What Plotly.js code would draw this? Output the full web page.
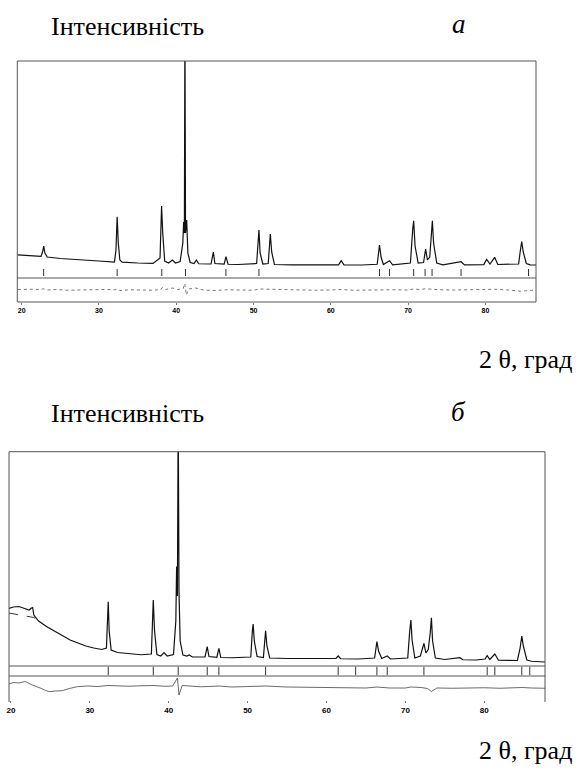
<!DOCTYPE html>
<html>
<head>
<meta charset="utf-8">
<script src="https://cdn.plot.ly/plotly-3.0.1.min.js"></script>
<style>html,body{margin:0;padding:0;background:#fff;}#chart{width:582px;height:774px;}</style>
</head>
<body>
<div id="chart"></div>
<script>
// ---------- Panel a (observed profile) ----------
var twoThetaA = [19.45,20.5,21.5,22.5,22.7,22.85,23.0,23.3,25.0,27.5,30.0,32.0,32.2,32.35,32.5,32.7,33.0,35.0,37.0,37.9,38.1,38.25,38.5,39.0,39.5,39.9,40.5,40.85,40.95,41.05,41.12,41.2,41.35,41.5,41.8,42.3,42.6,42.9,44.5,44.8,45.0,46.2,46.43,46.7,48.0,50.4,50.7,50.85,51.2,51.9,52.17,52.35,52.7,55.0,58.0,61.0,61.34,61.7,64.0,66.0,66.3,66.5,66.8,67.6,68.0,70.3,70.6,70.72,70.9,71.3,72.0,72.27,72.5,72.8,73.14,73.3,73.7,74.5,76.85,77.3,79.8,80.16,80.6,81.2,81.6,84.3,84.5,84.7,84.9,85.3,85.8,86.6];
var intensityA = [462,450,440,432,520,640,500,420,390,372,340,320,560,1226,700,360,318,300,292,400,1440,900,340,300,360,300,330,700,1120,900,5200,900,1160,500,310,290,360,285,280,520,290,276,426,275,270,290,960,500,280,290,880,520,270,264,262,262,346,262,260,275,660,420,270,346,262,300,980,1146,640,300,310,580,360,420,1146,700,300,262,326,262,268,374,280,414,270,280,520,726,520,290,262,260];
var braggA = [22.84,32.35,38.13,41.2,46.43,50.7,66.3,67.6,70.72,72.2,73.1,76.85,85.58];
var diffXA = [19.5,20.5,21.5,22.5,22.8,23.2,24.5,26,27.5,29,30.5,32,32.35,32.7,34,35.5,37,38.0,38.2,38.6,39.5,40.2,40.9,41.1,41.3,41.6,42.5,43.5,45,46.4,48,50,50.7,52.1,54,56,58,60,61.3,63,65,66.3,68,70,70.7,71.5,72.3,73.1,74,76,78,80.2,81.2,83,84.6,85.2,86.5];
var diffYA = [10,20,15,10,25,0,10,-5,5,0,10,5,20,-10,5,0,-5,10,50,10,40,10,30,130,-100,20,40,0,-10,5,0,-5,20,15,0,5,-5,0,10,-5,0,15,5,0,20,10,25,15,5,0,5,10,15,0,-25,-15,0];

// ---------- Panel б (observed profile) ----------
var twoThetaB = [19.75,20.3,21.0,21.7,22.3,22.6,22.75,22.9,23.5,24.5,25.5,26.5,27.5,28.5,29.5,30.5,31.5,32.1,32.25,32.33,32.45,32.7,33.5,35.0,36.5,37.8,37.95,38.04,38.2,38.5,39.0,39.4,39.8,40.6,40.9,41.0,41.1,41.2,41.3,41.45,41.8,42.3,42.6,43.0,44.6,44.88,45.1,46.1,46.36,46.6,48.0,50.4,50.6,50.7,50.85,51.2,52.0,52.28,52.45,52.8,55.0,58.0,61.2,61.48,61.8,64.0,66.1,66.39,66.6,67.0,67.7,68.1,70.3,70.55,70.7,70.85,71.2,71.9,72.35,72.6,72.9,73.15,73.3,73.45,73.8,75.0,76.9,77.3,79.0,80.1,80.37,80.7,81.34,81.8,84.2,84.55,84.76,84.95,85.4,86.0,87.7];
var intensityB = [1150,1180,1190,1160,1120,1160,1170,1020,900,790,700,600,520,460,400,360,330,360,900,1286,700,320,270,240,225,240,800,1320,700,230,200,266,200,230,900,1990,1400,5200,1500,500,220,200,220,180,180,386,190,175,354,170,165,180,700,840,500,190,170,706,400,160,150,148,150,200,145,140,160,486,300,150,200,140,160,700,920,520,160,200,454,260,330,660,966,500,160,130,166,125,120,140,206,130,240,115,110,360,600,400,120,95,80];
var calcLeftXB = [19.75,20.5,21.5,22.3,22.9,23.5];
var calcLeftYB = [1060,1040,1010,990,970,900];
var braggB = [32.33,38.04,41.2,44.88,46.36,52.28,61.48,63.7,66.39,67.7,72.35,80.37,81.34,84.76,85.77];
var diffXB = [19.75,20.3,21.0,21.8,22.7,23.3,23.8,24.4,24.9,25.6,26.5,27.4,28.4,29.7,31,32.3,33.5,35,36.5,38,39.5,40.5,41.1,41.3,41.7,42.5,44,45,46.4,48,50,52.3,55,58,60,63,65,66.4,68,70,70.7,72,72.8,73.3,74,76,78,80,82,84.8,86,87.7];
var diffYB = [40,70,60,90,20,-10,-46,-90,-114,-100,-94,-50,-14,0,-10,10,0,-5,5,10,-5,0,160,-180,10,0,-15,-10,0,-20,-15,0,-20,-25,-30,-35,-40,-20,-40,-40,-20,-30,-50,-110,-40,-45,-40,-35,-45,-30,-40,-45];

var tickVals = [20,30,40,50,60,70,80];
var tickText = ['20','30','40','50','60','70','80'];

// ---------- geometry (pixels of the 582x774 page) ----------
var W = 582, H = 774;
function px(x){return x/W;}
function py(y){return 1 - y/H;}

var A = {l:17.3, r:536, top:61, sep:278, bot:302, zero:290, xr:[19.43,86.55]};
var B = {l:9, r:545, top:451.7, sep1:666, sep2:676, bot:700, xr:[19.75,87.7]};
var K = 20; // intensity units per pixel

var lineCol = '#111';
var frameCol = '#555';
var serif = 'Liberation Serif';

var traces = [
  {x:twoThetaA, y:intensityA, xaxis:'x', yaxis:'y', type:'scatter', mode:'lines',
   line:{color:lineCol, width:1.2}, hoverinfo:'skip'},
  {x:braggA, y:braggA.map(function(){return (A.sep-272.5)*K;}), xaxis:'x', yaxis:'y', type:'scatter', mode:'markers',
   marker:{symbol:'line-ns', size:5, line:{width:1, color:'#333'}}, hoverinfo:'skip'},
  {x:diffXA, y:diffYA, xaxis:'x2', yaxis:'y2', type:'scatter', mode:'lines',
   line:{color:'#777', width:1, dash:'dot'}, hoverinfo:'skip'},
  {x:twoThetaB, y:intensityB, xaxis:'x3', yaxis:'y3', type:'scatter', mode:'lines',
   line:{color:lineCol, width:1.2}, hoverinfo:'skip'},
  {x:calcLeftXB, y:calcLeftYB, xaxis:'x3', yaxis:'y3', type:'scatter', mode:'lines',
   line:{color:'#333', width:1, dash:'dash'}, hoverinfo:'skip'},
  {x:braggB, y:braggB.map(function(){return 0.5;}), xaxis:'x3', yaxis:'y5', type:'scatter', mode:'markers',
   marker:{symbol:'line-ns', size:6, line:{width:1, color:'#333'}}, hoverinfo:'skip'},
  {x:diffXB, y:diffYB, xaxis:'x4', yaxis:'y4', type:'scatter', mode:'lines',
   line:{color:'#444', width:0.8}, hoverinfo:'skip'}
];

function hidden(extra){
  var o = {visible:false, showgrid:false, zeroline:false, fixedrange:true};
  for (var k in extra) o[k]=extra[k];
  return o;
}
function labelled(extra, fs){
  var o = {showgrid:false, zeroline:false, showline:false, ticks:'outside', ticklen:2, tickwidth:1,
           tickcolor:'#777', tickvals:tickVals, ticktext:tickText,
           tickfont:{family:'Liberation Sans', size:fs, color:'#000', weight:'bold'}};
  for (var k in extra) o[k]=extra[k];
  return o;
}
function txt(t, x, y, anchor, size){
  return {text:t, xref:'paper', yref:'paper', x:px(x), y:py(y), xanchor:anchor, yanchor:'middle', showarrow:false,
          font:{family:serif, size:size, color:'#000'}};
}

var layout = {
  width:W, height:H, margin:{l:0,r:0,t:0,b:0,pad:0},
  paper_bgcolor:'#fff', plot_bgcolor:'rgba(0,0,0,0)', showlegend:false,
  font:{family:serif},
  xaxis: hidden({domain:[px(A.l),px(A.r)], range:A.xr, anchor:'y'}),
  yaxis: hidden({domain:[py(A.sep),py(A.top)], range:[0,(A.sep-A.top)*K], anchor:'x'}),
  xaxis2: labelled({domain:[px(A.l),px(A.r)], range:A.xr, anchor:'y2'}, 7),
  yaxis2: hidden({domain:[py(A.bot),py(A.sep)], range:[-(A.bot-A.zero)*K,(A.zero-A.sep)*K], anchor:'x2'}),
  xaxis3: hidden({domain:[px(B.l),px(B.r)], range:B.xr, anchor:'y3'}),
  yaxis3: hidden({domain:[py(B.sep1),py(B.top)], range:[0,(B.sep1-B.top)*K], anchor:'x3'}),
  xaxis4: labelled({domain:[px(B.l),px(B.r)], range:B.xr, anchor:'y4'}, 8),
  yaxis4: hidden({domain:[py(B.bot),py(B.sep2)], range:[-(B.bot-686)*K,(686-B.sep2)*K], anchor:'x4'}),
  yaxis5: hidden({domain:[py(B.sep2),py(B.sep1)], range:[0,1], anchor:'x3'}),
  shapes: [
    {type:'rect', xref:'paper', yref:'paper', x0:px(A.l), x1:px(A.r), y0:py(A.bot), y1:py(A.top), line:{color:frameCol,width:1}},
    {type:'line', xref:'paper', yref:'paper', x0:px(A.l), x1:px(A.r), y0:py(A.sep), y1:py(A.sep), line:{color:frameCol,width:1}},
    {type:'line', xref:'paper', yref:'paper', x0:px(B.l), x1:px(B.r), y0:py(B.top), y1:py(B.top), line:{color:frameCol,width:1}},
    {type:'line', xref:'paper', yref:'paper', x0:px(B.l), x1:px(B.l), y0:py(B.bot+2), y1:py(B.top), line:{color:frameCol,width:1}},
    {type:'line', xref:'paper', yref:'paper', x0:px(B.r), x1:px(B.r), y0:py(B.bot+2), y1:py(B.top), line:{color:frameCol,width:1}},
    {type:'line', xref:'paper', yref:'paper', x0:px(B.l), x1:px(B.r), y0:py(B.sep1), y1:py(B.sep1), line:{color:frameCol,width:1}},
    {type:'line', xref:'paper', yref:'paper', x0:px(B.l), x1:px(B.r), y0:py(B.sep2), y1:py(B.sep2), line:{color:frameCol,width:1}}
  ],
  annotations: [
    txt('Інтенсивність', 49, 26, 'left', 26),
    txt('<i>а</i>', 459, 24, 'center', 27),
    txt('2 θ, град', 574, 359, 'right', 26),
    txt('Інтенсивність', 49, 414, 'left', 26),
    txt('<i>б</i>', 458, 412, 'center', 27),
    txt('2 θ, град', 574, 750, 'right', 26)
  ]
};

Plotly.newPlot('chart', traces, layout, {staticPlot:true, displayModeBar:false});
</script>
</body>
</html>
